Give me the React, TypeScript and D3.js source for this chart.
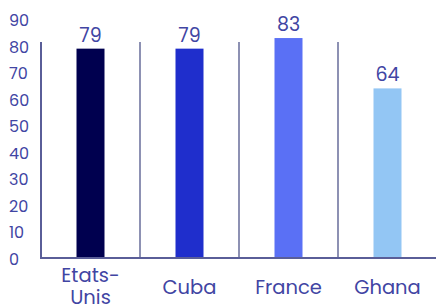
import * as d3 from "d3";

const countries = ["Etats-Unis", "Cuba", "France", "Ghana"];
const countryLines = [["Etats-", "Unis"], ["Cuba"], ["France"], ["Ghana"]];
const values = [79, 79, 83, 64];
const barColors = ["#00004f", "#1f2ecc", "#5a70f5", "#93c6f4"];
const yTicks = [0, 10, 20, 30, 40, 50, 60, 70, 80, 90];

const width = 436;
const height = 305;
const baseline = 258;
const left = 41;
const FONT = "Poppins, 'DejaVu Sans', sans-serif";
const TEXT = "#4145a3";

export default function App() {
  const x = d3.scaleBand().domain(countries).range([left, left + 99 * 4]).padding(0);
  const y = d3.scaleLinear().domain([0, 90]).range([baseline, 19.5]);
  const barWidth = 28;
  const sepTop = 42;

  return (
    <svg
      width={width}
      height={height}
      style={{ position: "absolute", left: 0, top: 0, background: "#fff" }}
      fontFamily={FONT}
    >
      {yTicks.map((t) => (
        <text key={t} x={9} y={y(t) + 1} dy="0.35em" fontSize={16} fill={TEXT}>
          {t}
        </text>
      ))}

      {countries.slice(1).map((c) => (
        <line
          key={c}
          x1={x(c)!}
          x2={x(c)!}
          y1={sepTop}
          y2={baseline}
          stroke="#8d91b3"
          strokeWidth={2}
        />
      ))}

      {countries.map((c, i) => {
        const cx = x(c)! + x.bandwidth() / 2;
        return (
          <g key={c}>
            <rect
              x={cx - barWidth / 2}
              y={y(values[i])}
              width={barWidth}
              height={baseline - y(values[i])}
              fill={barColors[i]}
            />
            <text
              x={cx}
              y={y(values[i]) - 7}
              textAnchor="middle"
              fontSize={19}
              fill={TEXT}
            >
              {values[i]}
            </text>
            {countryLines[i].map((line, j) => (
              <text
                key={line}
                x={cx}
                y={(countryLines[i].length > 1 ? 282 : 294) + j * 22}
                textAnchor="middle"
                fontSize={19.5}
                fill={TEXT}
              >
                {line}
              </text>
            ))}
          </g>
        );
      })}

      <line x1={left} x2={left} y1={sepTop} y2={baseline + 1} stroke="#5a5e98" strokeWidth={2} />
      <line x1={left} x2={width} y1={baseline} y2={baseline} stroke="#5a5e98" strokeWidth={2} />
    </svg>
  );
}
